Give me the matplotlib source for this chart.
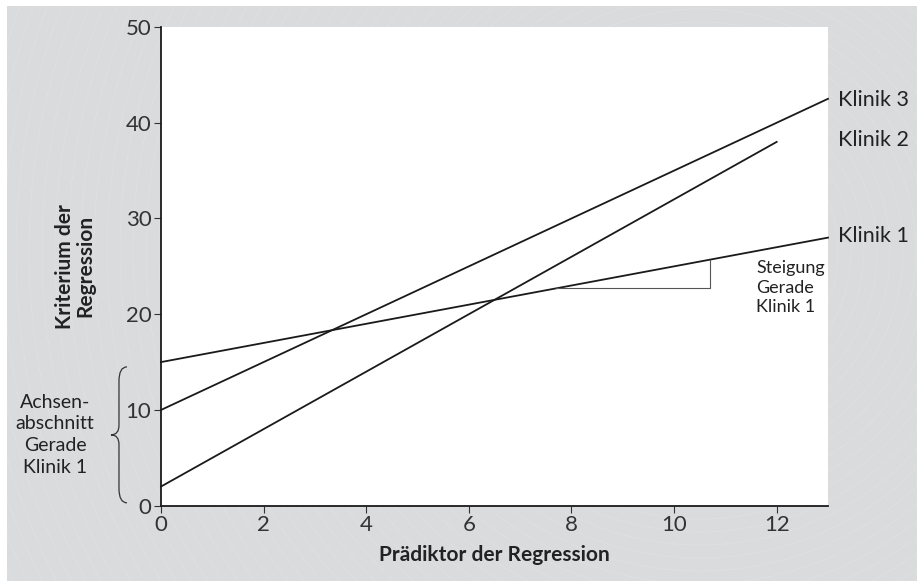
import matplotlib.pyplot as plt
import matplotlib.patches as mpatches
from matplotlib.path import Path
import matplotlib.transforms as mtransforms
import numpy as np

plt.rcParams['font.family'] = ['Lato', 'DejaVu Sans']

kliniken = ["Klinik 1", "Klinik 2", "Klinik 3"]
intercepts = [15, 2, 10]
slopes = [1, 3, 2.5]
x_end = [13, 12, 13]
label_y = [28.2, 38.2, 42.4]

xticks = [0, 2, 4, 6, 8, 10, 12]
yticks = [0, 10, 20, 30, 40, 50]

fig = plt.figure(figsize=(9.17, 5.81), dpi=100)
fig.patch.set_facecolor("white")

# grauer Hintergrund mit feinen Kreisen
bg = mpatches.Rectangle((7 / 917, 0), 1, 1 - 6 / 581, transform=fig.transFigure,
                        facecolor="#dadbdd", edgecolor="none", zorder=-10)
fig.patches.append(bg)
for r in np.arange(60, 1100, 13):
    c = mpatches.Circle((700, 330), r, transform=None, fill=False,
                        edgecolor="white", lw=0.4, alpha=0.2, zorder=-9,
                        clip_path=bg)
    fig.patches.append(c)

ax = fig.add_axes([161 / 917, 1 - 505.7 / 581, (828 - 161) / 917, (505.7 - 27) / 581])
ax.set_facecolor("white")
ax.set_xlim(0, 13)
ax.set_ylim(0, 50)

for name, b, m, xe, ly in zip(kliniken, intercepts, slopes, x_end, label_y):
    xs = np.array([0, xe])
    ax.plot(xs, b + m * xs, color="#1a1a1a", lw=1.3, clip_on=False)
    ax.text(13.2, ly, name, fontsize=15.5, color="#222", va="center", ha="left",
            clip_on=False)

# Steigungsdreieck
x0, x1 = 7.7, 10.7
yb = intercepts[0] + slopes[0] * x0
ax.plot([x0, x1, x1], [yb, yb, intercepts[0] + slopes[0] * x1], color="#555", lw=0.8)
ax.text(11.6, 25.7, "Steigung\nGerade\nKlinik 1", fontsize=13, color="#222",
        va="top", ha="left", linespacing=1.3)

for s in ["top", "right"]:
    ax.spines[s].set_visible(False)
for s in ["left", "bottom"]:
    ax.spines[s].set_linewidth(1.3)
    ax.spines[s].set_color("#1a1a1a")

ax.set_xticks(xticks)
ax.set_yticks(yticks)
ax.tick_params(labelsize=16, labelcolor="#333", color="#333", length=5, width=0.8, pad=2)

ax.set_xlabel("Prädiktor der Regression", fontsize=15, fontweight="bold", color="#222",
              labelpad=7)
ax.set_ylabel("Kriterium der\nRegression", fontsize=15, fontweight="bold", color="#222",
              labelpad=22, linespacing=1.0)

# geschweifte Klammer für den Achsenabschnitt
trans = mtransforms.blended_transform_factory(ax.transAxes, ax.transData)
bx = -0.063
w = 0.012
y0, y1 = 0.3, 14.5
ym = (y0 + y1) / 2
verts = [(bx + w, y1), (bx, y1), (bx, y1 - 1.5), (bx, ym + 1),
         (bx, ym), (bx - w, ym), (bx - w, ym),
         (bx, ym), (bx, ym - 1), (bx, y0 + 1.5),
         (bx, y0), (bx + w, y0), (bx + w, y0)]
codes = [Path.MOVETO, Path.CURVE3, Path.CURVE3, Path.LINETO,
         Path.CURVE3, Path.CURVE3, Path.MOVETO,
         Path.CURVE3, Path.CURVE3, Path.LINETO,
         Path.CURVE3, Path.CURVE3, Path.LINETO]
brace = mpatches.PathPatch(Path(verts, codes), transform=trans, fill=False,
                           edgecolor="#333", lw=0.9, clip_on=False)
ax.add_patch(brace)
ax.text(-0.159, ym, "Achsen-\nabschnitt\nGerade\nKlinik 1", transform=trans,
        fontsize=14, color="#222", ha="center", va="center", linespacing=1.35)

fig.savefig("out.png", dpi=100)
